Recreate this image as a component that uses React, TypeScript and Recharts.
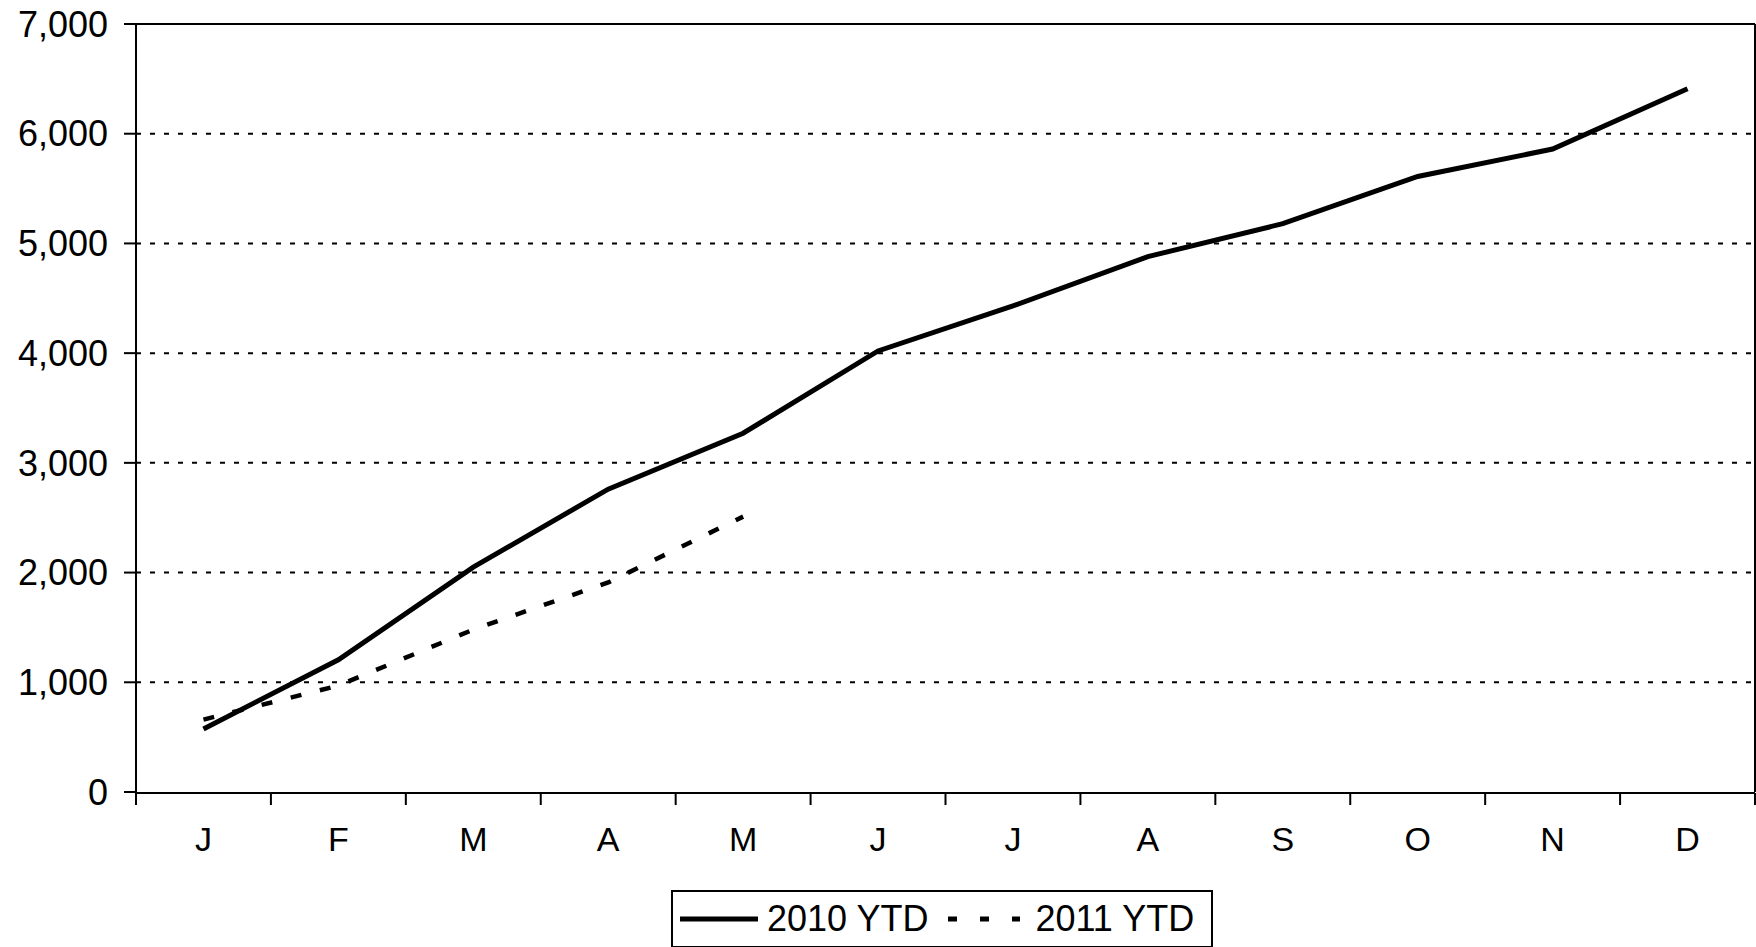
import { LineChart, Line, XAxis, YAxis, CartesianGrid, ReferenceLine, Legend } from 'recharts';

const months = ['J', 'F', 'M', 'A', 'M', 'J', 'J', 'A', 'S', 'O', 'N', 'D'];
const ytd2010 = [575, 1205, 2050, 2760, 3270, 4020, 4430, 4880, 5180, 5610, 5860, 6410];
const ytd2011 = [660, 970, 1480, 1910, 2510];
const yTicks = [0, 1000, 2000, 3000, 4000, 5000, 6000, 7000];
const gridValues = [1000, 2000, 3000, 4000, 5000, 6000];
const monthEdges = [0, 1, 2, 3, 4, 5, 6, 7, 8, 9, 10, 11, 12];

const data = months.map((m, i) => ({
  month: m,
  pos: i + 0.5,
  y2010: ytd2010[i],
  y2011: i < ytd2011.length ? ytd2011[i] : null,
}));
const monthCenters = data.map((d) => d.pos);

const FONT = '"Liberation Sans", Arial, sans-serif';

function LegendBox({ payload }: any) {
  return (
    <div
      style={{
        border: '2px solid #000',
        height: 54,
        display: 'flex',
        alignItems: 'center',
        padding: '0 17px 0 7px',
        fontFamily: FONT,
        fontSize: 36,
        color: '#000',
        background: '#fff',
        whiteSpace: 'nowrap',
      }}
    >
      {(payload || []).map((p: any, i: number) => {
        const dashed = !!p.payload?.strokeDasharray;
        const w = dashed ? 72 : 78;
        return (
          <span key={i} style={{ display: 'flex', alignItems: 'center', marginLeft: i === 0 ? 0 : 20 }}>
            <svg width={w} height={10} style={{ marginRight: dashed ? 15 : 9 }}>
              <line
                x1={0}
                y1={5}
                x2={w}
                y2={5}
                stroke="#000"
                strokeWidth={5}
                strokeDasharray={dashed ? '9 23' : undefined}
              />
            </svg>
            {p.value}
          </span>
        );
      })}
    </div>
  );
}

export default function App() {
  return (
    <div style={{ position: 'absolute', left: 0, top: 0, width: 1756, height: 947, overflow: 'hidden', background: '#fff' }}>
      <LineChart width={1756} height={947} data={data} margin={{ top: 24, right: 1, left: 0, bottom: 153 }}>
        <CartesianGrid
          vertical={false}
          horizontalValues={gridValues}
          stroke="#000"
          strokeWidth={2}
          strokeDasharray="5 9"
        />
        <YAxis
          type="number"
          domain={[0, 7000]}
          ticks={yTicks}
          interval={0}
          width={136}
          tickFormatter={(v) => v.toLocaleString('en-US')}
          tick={{ fill: '#000', fontSize: 36, fontFamily: FONT }}
          tickSize={12}
          tickMargin={16}
          axisLine={{ stroke: '#000', strokeWidth: 2 }}
          tickLine={{ stroke: '#000', strokeWidth: 2 }}
        />
        <XAxis
          xAxisId="t"
          type="number"
          dataKey="pos"
          domain={[0, 12]}
          ticks={monthEdges}
          interval={0}
          height={1}
          tickFormatter={() => ''}
          tickSize={12}
          axisLine={{ stroke: '#000', strokeWidth: 2 }}
          tickLine={{ stroke: '#000', strokeWidth: 2 }}
        />
        <XAxis
          xAxisId="m"
          type="number"
          dataKey="pos"
          domain={[0, 12]}
          ticks={monthCenters}
          interval={0}
          height={1}
          tickFormatter={(v) => months[Math.floor(v)]}
          tick={{ fill: '#000', fontSize: 34, fontFamily: FONT }}
          tickSize={0}
          tickMargin={35}
          axisLine={false}
          tickLine={false}
        />
        <ReferenceLine y={7000} xAxisId="t" stroke="#000" strokeWidth={2} />
        <ReferenceLine x={12} xAxisId="t" stroke="#000" strokeWidth={2} />
        <Line
          xAxisId="t"
          type="linear"
          dataKey="y2010"
          name="2010 YTD"
          stroke="#000"
          strokeWidth={5}
          dot={false}
          isAnimationActive={false}
        />
        <Line
          xAxisId="t"
          type="linear"
          dataKey="y2011"
          name="2011 YTD"
          stroke="#000"
          strokeWidth={4.5}
          strokeDasharray="11 19"
          dot={false}
          connectNulls={false}
          isAnimationActive={false}
        />
        <Legend
          layout="horizontal"
          align="center"
          verticalAlign="middle"
          content={<LegendBox />}
          wrapperStyle={{ top: 890, left: 671, bottom: 'auto', width: 'auto' }}
        />
      </LineChart>
    </div>
  );
}
